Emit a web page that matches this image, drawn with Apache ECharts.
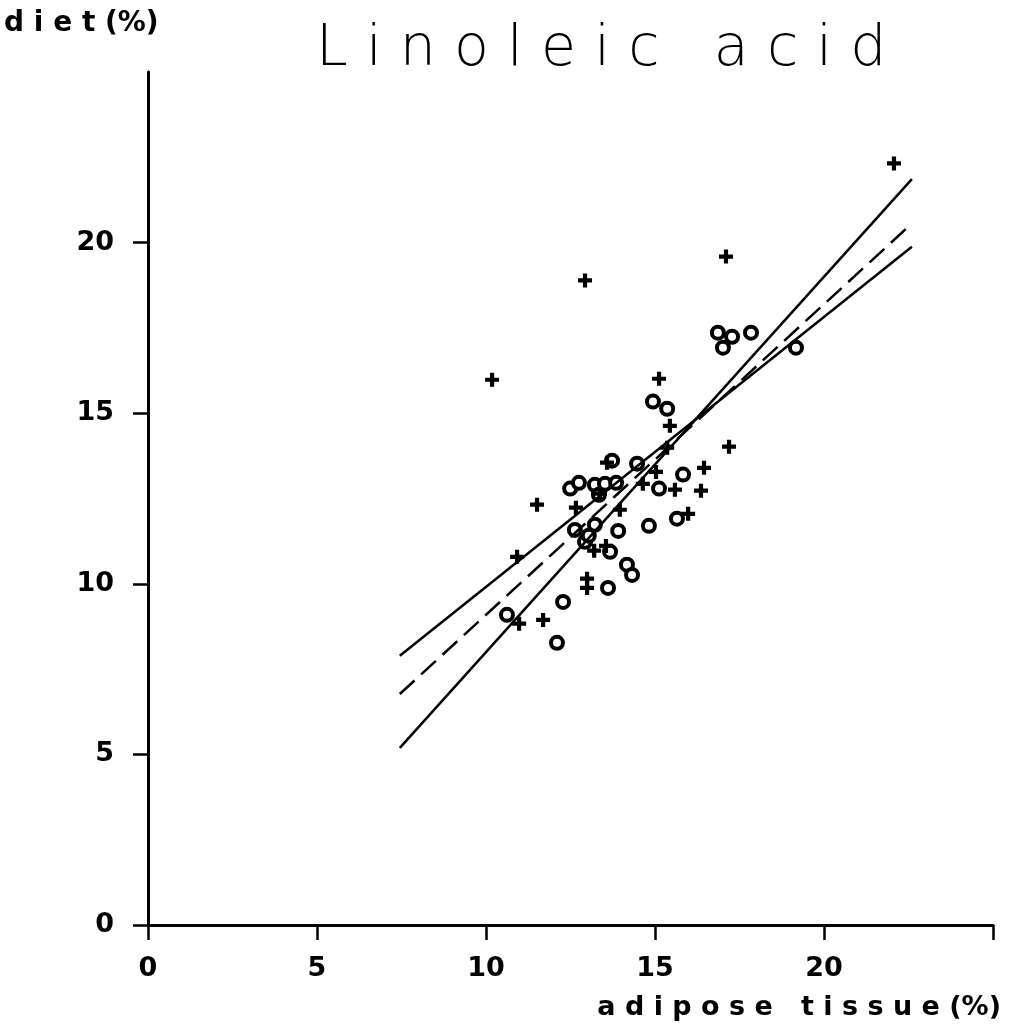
<!DOCTYPE html>
<html>
<head>
<meta charset="utf-8">
<script src="https://cdn.jsdelivr.net/npm/echarts@6/dist/echarts.min.js"></script>
<style>html,body{margin:0;padding:0;background:#fff;}#c{width:1011px;height:1035px;}</style>
</head>
<body>
<div id="c"></div>
<script>
// Data
var tickValues = [0, 5, 10, 15, 20];
// circles (adipose tissue %, diet %)
var circleX = [14.94, 15.36, 13.73, 14.47, 15.83, 15.12, 15.65, 14.82, 13.91, 13.22, 12.63, 12.93, 12.49, 12.75, 13.22, 13.52, 13.85, 13.34, 13.67, 14.17, 14.32, 13.61, 12.28, 10.62, 12.10, 16.86, 17.28, 17.01, 17.84, 19.17, 13.04];
var circleY = [15.34, 15.13, 13.61, 13.52, 13.20, 12.79, 11.91, 11.70, 11.55, 11.73, 11.58, 11.23, 12.79, 12.96, 12.90, 12.93, 12.96, 12.61, 10.94, 10.56, 10.26, 9.88, 9.47, 9.09, 8.27, 17.36, 17.24, 16.92, 17.36, 16.92, 11.41];
// plus signs
var plusX = [22.07, 17.10, 12.93, 10.18, 15.12, 15.44, 17.19, 16.45, 11.51, 12.66, 14.64, 15.03, 15.59, 16.36, 15.98, 13.96, 13.58, 13.37, 10.92, 13.20, 13.55, 12.99, 12.99, 10.98, 11.69, 15.36];
var plusY = [22.32, 19.59, 18.89, 15.98, 16.01, 14.63, 14.02, 13.40, 12.32, 12.23, 12.93, 13.28, 12.76, 12.73, 12.05, 12.17, 13.55, 12.64, 10.79, 10.97, 11.11, 10.15, 9.88, 8.83, 8.94, 13.99];
// regression lines (endpoints)
var lineX = [7.45, 22.6];
var steepY = [5.19, 21.86];
var shallowY = [7.89, 19.88];
var dashedY = [6.77, 20.56];

function pairs(xs, ys) { return xs.map(function (x, i) { return [x, ys[i]]; }); }

var plusPath = 'path://M3.5,0h3v3.5h3.5v3h-3.5v3.5h-3v-3.5h-3.5v-3h3.5z';
var chart = echarts.init(document.getElementById('c'));
chart.setOption({
  backgroundColor: '#fff',
  animation: false,
  title: {
    text: 'L i n o l e i c   a c i d',
    left: 311, top: 17,
    textStyle: { fontFamily: 'DejaVu Sans', fontWeight: 'lighter', fontSize: 57, color: '#000' }
  },
  graphic: [
    { type: 'text', left: 4, top: 10, style: { text: 'd i e t (%)', font: 'bold 28px "DejaVu Sans"', fill: '#000' } },
    { type: 'text', right: 10, top: 994, style: { text: 'a d i p o s e   t i s s u e (%)', font: 'bold 27px "DejaVu Sans"', fill: '#000' } }
  ],
  grid: { left: 148, right: 18, top: 72, bottom: 110, containLabel: false },
  xAxis: {
    type: 'value', min: 0, max: 25, interval: 5,
    splitLine: { show: false },
    axisLine: { lineStyle: { color: '#000', width: 3 } },
    axisTick: { show: true, length: 15, lineStyle: { color: '#000', width: 2.5 } },
    axisLabel: { customValues: tickValues, margin: 30, color: '#000', fontFamily: 'DejaVu Sans', fontWeight: 'bold', fontSize: 27 }
  },
  yAxis: {
    type: 'value', min: 0, max: 25, interval: 5,
    splitLine: { show: false },
    axisLine: { lineStyle: { color: '#000', width: 3 } },
    axisTick: { show: true, length: 15, customValues: tickValues, lineStyle: { color: '#000', width: 2.5 } },
    axisLabel: { customValues: tickValues, margin: 34, color: '#000', fontFamily: 'DejaVu Sans', fontWeight: 'bold', fontSize: 27 }
  },
  series: [
    { type: 'line', data: pairs(lineX, steepY), symbol: 'none', lineStyle: { color: '#000', width: 2.5 } },
    { type: 'line', data: pairs(lineX, shallowY), symbol: 'none', lineStyle: { color: '#000', width: 2.5 } },
    { type: 'line', data: pairs(lineX, dashedY), symbol: 'none', lineStyle: { color: '#000', width: 2.5, type: [20, 9] } },
    { type: 'scatter', data: pairs(circleX, circleY), symbol: 'circle', symbolSize: 12,
      itemStyle: { color: '#fff', borderColor: '#000', borderWidth: 4, opacity: 1 } },
    { type: 'scatter', data: pairs(plusX, plusY), symbol: plusPath, symbolSize: 14,
      itemStyle: { color: '#000', opacity: 1 } }
  ]
});
</script>
</body>
</html>
